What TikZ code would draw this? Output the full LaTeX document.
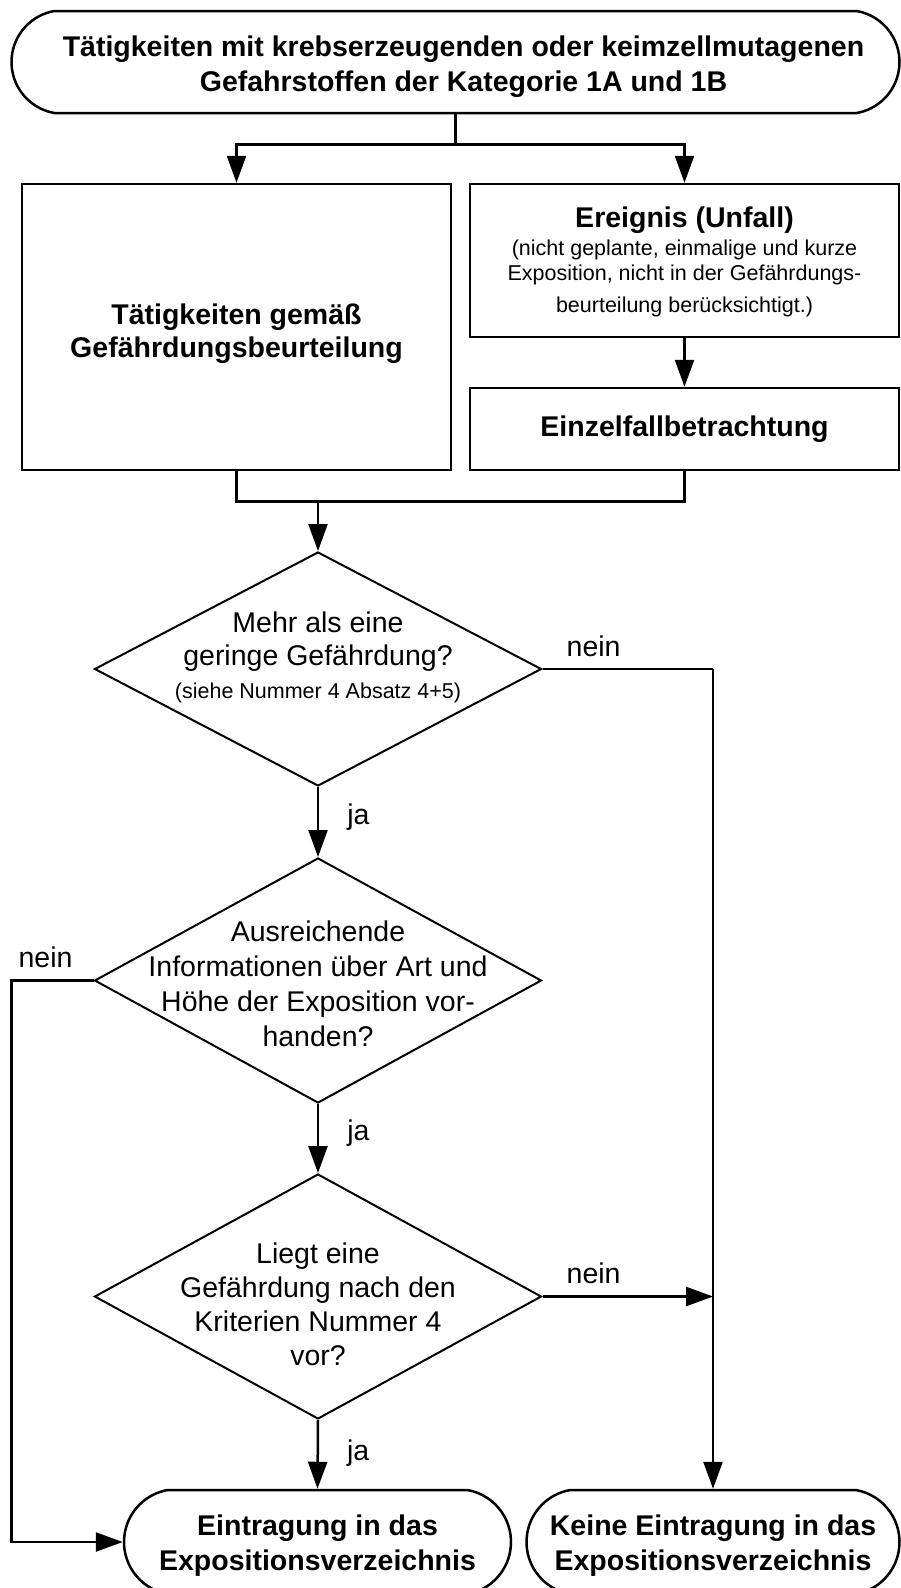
\documentclass[tikz,border=0pt]{standalone}
\usepackage{fontspec}
\setmainfont{Liberation Sans}
\usetikzlibrary{positioning,shapes.geometric,shapes.misc,arrows.meta}

\newcommand{\flowtext}[2][0pt]{\makebox[0pt]{\smash{\raisebox{#1}{\begin{tabular}{@{}c@{}}#2\end{tabular}}}}}

\begin{document}
\begin{tikzpicture}[x=1pt, y=-1pt]
  \tikzset{
    terminal/.style={draw, rounded rectangle, rounded rectangle arc length=160, line width=2.5pt, inner sep=0pt, font=\bfseries\fontsize{28.5pt}{35pt}\selectfont},
    process/.style={draw, rectangle, line width=2.5pt, minimum width=429pt, inner sep=0pt, font=\bfseries\fontsize{28.5pt}{33pt}\selectfont},
    decision/.style={draw, diamond, line width=2pt, inner sep=0pt, minimum width=447pt, minimum height=245pt, font=\fontsize{28.5pt}{35pt}\selectfont},
    answer/.style={inner sep=0pt, font=\fontsize{28.5pt}{35pt}\selectfont},
    link/.style={line width=2.5pt},
    flow/.style={line width=2.5pt, -{Triangle[length=27pt,width=19pt]}}
  }
  \useasboundingbox (0,0) rectangle (901,1588);
  \clip (0,0) rectangle (901,1588);

  \node[terminal, minimum width=888pt, minimum height=102pt] (start) at (455.5,62) {\hspace*{16pt}\flowtext[-11pt]{Tätigkeiten mit krebserzeugenden oder keimzellmutagenen\\Gefahrstoffen der Kategorie 1A und 1B}};
  \node[process, minimum height=286pt] (activity) at (236.5,327) {\flowtext[-14pt]{Tätigkeiten gemäß\\Gefährdungsbeurteilung}};
  \node[process, minimum height=153pt, font=\fontsize{21.5pt}{25pt}\selectfont] (event) at (684.5,260.5) {\flowtext[-8pt]{{\bfseries\fontsize{28.5pt}{33pt}\selectfont Ereignis (Unfall)}\\[3.5pt]
    (nicht geplante, einmalige und kurze\\Exposition, nicht in der Gefährdungs-\\[7pt]beurteilung berücksichtigt.)}};
  \node[process, minimum height=82pt, below=48.5pt of event] (single) {Einzelfallbetrachtung};

  \node[decision, minimum height=234pt, font=\fontsize{28.5pt}{33pt}\selectfont] (d1) at (318,669) {\flowtext[3.5pt]{Mehr als eine\\geringe Gefährdung?\\{\fontsize{21.5pt}{25pt}\selectfont (siehe Nummer 4 Absatz 4+5)}}};
  \node[decision] (d2) at (318,980.5) {\flowtext[-12.5pt]{Ausreichende\\Informationen über Art und\\Höhe der Exposition vor-\\handen?}};
  \node[decision, font=\fontsize{28.5pt}{34pt}\selectfont] (d3) at (318,1296.5) {\flowtext[-17pt]{Liegt eine\\Gefährdung nach den\\Kriterien Nummer 4\\vor?}};

  \node[terminal, minimum width=387pt, minimum height=104pt] (entry) at (317.5,1542) {\flowtext[-10pt]{Eintragung in das\\Expositionsverzeichnis}};
  \node[terminal, minimum width=373pt, minimum height=104pt] (noentry) at (713,1542) {\flowtext[-10pt]{Keine Eintragung in das\\Expositionsverzeichnis}};

  \coordinate (split) at ([yshift=-30pt]start.south);
  \coordinate (merge) at ([yshift=-30pt]activity.south);
  \coordinate (c1) at (d1.east -| noentry.north);
  \coordinate (c2) at ([xshift=-82pt]d2.west);
  \coordinate (c3) at (d3.east -| noentry.north);

  \draw[link] (start.south) -- (split);
  \draw[flow] (split) -| (activity.north);
  \draw[flow] (split) -| (event.north);
  \draw[flow] (event) -- (single);
  \draw[link] (activity.south) -- (merge) -| (single.south);
  \draw[flow] (merge -| d1.north) -- (d1.north);

  \draw[flow] (d1.south) -- node[answer, pos=0.43, right=28pt] (ja1) {ja} (d2.north);
  \draw[flow] (d2.south) -- node[answer, pos=0.42, right=28pt] (ja2) {ja} (d3.north);
  \draw[flow] (d3.south) -- node[answer, pos=0.48, right=28pt] (ja3) {ja} (entry.north);

  \draw[link] (d1.east) -- node[answer, pos=0.3, above=11pt] (nein1) {nein} (c1);
  \draw[flow] (c1) -- (noentry.north);
  \draw[flow] (d3.east) -- node[answer, pos=0.3, above=11pt] (nein3) {nein} (c3);
  \draw[flow] (d2.west) -- node[answer, pos=0.585, above=11pt] (nein2) {nein} (c2) |- (entry.west);
\end{tikzpicture}
\end{document}
